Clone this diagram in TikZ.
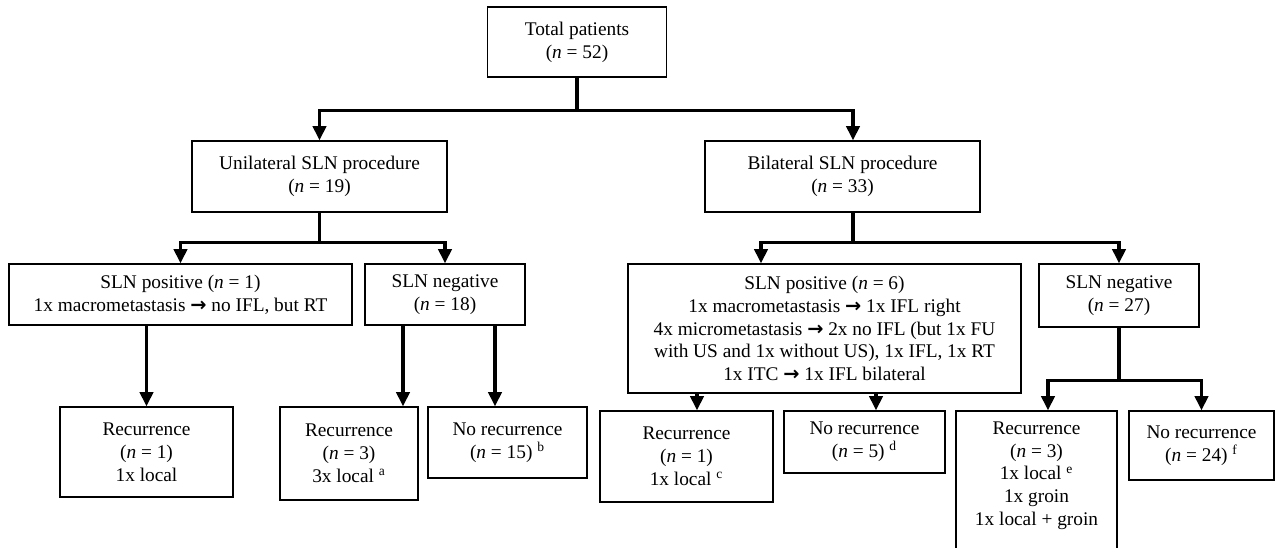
\documentclass[tikz,border=0pt]{standalone}
\usepackage{fontspec}
\setmainfont{Liberation Serif}
\newfontfamily\symfont{DejaVu Sans}
\usepackage{tikz}
\usetikzlibrary{arrows.meta}
\tikzstyle{box} = [rectangle, align=center, draw=black, line width=0.8pt, inner sep=2pt, font=\fontsize{11}{13}\selectfont]
\tikzstyle{arrow} = [line width=1.8pt, -{Triangle[length=8pt,width=7.5pt]}]
\newcommand{\nn}[1]{(\textit{n} = #1)}
\newcommand{\ra}{{\symfont\bfseries →}}

\begin{document}
\begin{tikzpicture}
	\useasboundingbox (0,0) rectangle (25.52,-10.94);
	\clip (0,0) rectangle (25.52,-10.94);
	
	% Row 1
	\node (total) [box, minimum width=3.58cm, minimum height=1.40cm] at (11.54,-0.84) {Total patients\\\nn{52}};
	
	% Row 2
	\node (uni) [box, minimum width=5.10cm, minimum height=1.42cm] at (6.39,-3.53) {Unilateral SLN procedure\\\nn{19}};
	\node (bil) [box, minimum width=5.50cm, minimum height=1.42cm] at (16.85,-3.53) {Bilateral SLN procedure\\\nn{33}};
	
	% Row 3
	\node (upos) [box, minimum width=6.86cm, minimum height=1.22cm] at (3.61,-5.89) {SLN positive \nn{1}\\1x macrometastasis \ra{} no IFL, but RT};
	\node (uneg) [box, minimum width=3.20cm, minimum height=1.22cm] at (8.90,-5.89) {SLN negative\\\nn{18}};
	\node (bpos) [box, minimum width=7.86cm, minimum height=2.58cm] at (16.49,-6.57) {SLN positive \nn{6}\\1x macrometastasis \ra{} 1x IFL right\\4x micrometastasis \ra{} 2x no IFL (but 1x FU\\with US and 1x without US), 1x IFL, 1x RT\\1x ITC \ra{} 1x IFL bilateral};
	\node (bneg) [box, minimum width=3.20cm, minimum height=1.26cm] at (22.38,-5.91) {SLN negative\\\nn{27}};
	
	% Row 4
	\node (rec1) [box, minimum width=3.46cm, minimum height=1.80cm] at (2.93,-9.04) {Recurrence\\\nn{1}\\1x local};
	\node (rec2) [box, minimum width=2.76cm, minimum height=1.86cm] at (6.98,-9.07) {Recurrence\\\nn{3}\\3x local \textsuperscript{a}};
	\node (norec2) [box, minimum width=3.18cm, minimum height=1.42cm] at (10.15,-8.85) {No recurrence\\\nn{15} \textsuperscript{b}};
	\node (rec3) [box, minimum width=3.46cm, minimum height=1.82cm] at (13.73,-9.13) {Recurrence\\\nn{1}\\1x local \textsuperscript{c}};
	\node (norec3) [box, minimum width=3.22cm, minimum height=1.24cm] at (17.29,-8.84) {No recurrence\\\nn{5} \textsuperscript{d}};
	\node (rec4) [box, minimum width=3.22cm, minimum height=3.10cm] at (20.73,-9.77) {Recurrence\\\nn{3}\\1x local \textsuperscript{e}\\1x groin\\1x local + groin\\\strut};
	\node (norec4) [box, minimum width=2.90cm, minimum height=1.38cm] at (24.03,-8.91) {No recurrence\\\nn{24} \textsuperscript{f}};
	
	% Split from total
	\draw [arrow] (total.south) -- ++(0,-0.66) -| (uni.north);
	\draw [arrow] (total.south) -- ++(0,-0.66) -| ([xshift=0.21cm]bil.north);
	
	% Unilateral branch
	\draw [arrow] (uni.south) -- ++(0,-0.60) -| (upos.north);
	\draw [arrow] (uni.south) -- ++(0,-0.60) -| (uneg.north);
	\draw [arrow] (rec1.north |- upos.south) -- (rec1.north);
	\draw [arrow] ([xshift=-0.84cm]uneg.south) -- ([xshift=-0.84cm]uneg.south |- rec2.north);
	\draw [arrow] ([xshift=1.00cm]uneg.south) -- ([xshift=1.00cm]uneg.south |- norec2.north);
	
	% Bilateral branch
	\draw [arrow] ([xshift=0.21cm]bil.south) -- ++(0,-0.60) -| ([xshift=-1.27cm]bpos.north);
	\draw [arrow] ([xshift=0.21cm]bil.south) -- ++(0,-0.60) -| (bneg.north);
	\draw [arrow] ([xshift=-2.55cm]bpos.south) -- ([xshift=-2.55cm]bpos.south |- rec3.north);
	\draw [arrow] ([xshift=1.03cm]bpos.south) -- ([xshift=1.03cm]bpos.south |- norec3.north);
	\draw [arrow] (bneg.south) -- ++(0,-1.06) -| ([xshift=0.23cm]rec4.north);
	\draw [arrow] (bneg.south) -- ++(0,-1.06) -| (norec4.north);
	
\end{tikzpicture}
\end{document}
